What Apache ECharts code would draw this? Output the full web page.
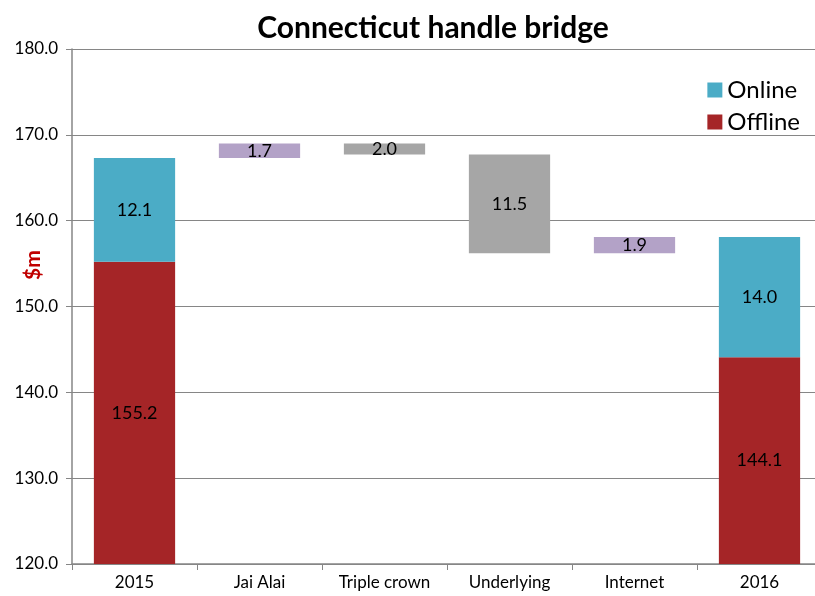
<!DOCTYPE html>
<html><head><meta charset="utf-8">
<script src="https://cdn.jsdelivr.net/npm/echarts@6/dist/echarts.min.js"></script>
<style>html,body{margin:0;padding:0;background:#fff}#c{width:815px;height:596px}</style>
</head><body><div id="c"></div>
<script>
var categories = ["2015", "Jai Alai", "Triple crown", "Underlying", "Internet", "2016"];
var offline = [155.2, null, null, null, null, 144.1];
var online = [12.1, null, null, null, null, 14.0];
var baseVals = [null, 167.3, 167.7, 156.2, 156.2, null];
var increase = [null, 1.7, null, null, 1.9, null];
var decrease = [null, null, 1.3, 11.5, null, null];
var changeLabels = ["", "1.7", "2.0", "11.5", "1.9", ""];
var yTicks = [120, 130, 140, 150, 160, 170, 180];

var font = "Lato, 'Open Sans', sans-serif";
function lbl(fn) {
  return { show: true, position: 'inside', color: '#000', fontSize: 18, fontFamily: font, formatter: fn };
}
var chart = echarts.init(document.getElementById('c'));
chart.setOption({
  animation: false,
  title: { text: 'Connecticut handle bridge', left: 428, top: 8, textAlign: 'center',
    textStyle: { fontFamily: font, fontWeight: 'bold', fontSize: 30, color: '#000' } },
  legend: { right: 10, top: 73, orient: 'vertical', itemWidth: 15, itemHeight: 15, itemGap: 8,
    data: ['Online', 'Offline'], icon: 'rect',
    textStyle: { fontFamily: font, fontSize: 24, color: '#000' } },
  graphic: [{ type: 'text', x: 33, y: 265, rotation: Math.PI / 2,
    style: { text: '$m', fill: '#c00000', font: 'bold 21px ' + font, align: 'center', verticalAlign: 'middle' } }],
  grid: { left: 72, right: -7, top: 49, bottom: 32, outerBoundsMode: 'none', containLabel: false },
  xAxis: { type: 'category', data: categories,
    axisLine: { lineStyle: { color: '#868686', width: 1.5 } },
    axisTick: { show: true, length: 6, lineStyle: { color: '#868686' } },
    axisLabel: { fontFamily: font, fontSize: 17, color: '#000', margin: 10 } },
  yAxis: { type: 'value', min: yTicks[0], max: yTicks[yTicks.length - 1], interval: 10,
    axisLine: { show: true, lineStyle: { color: '#868686', width: 1.5 } },
    axisTick: { show: true, length: 6, inside: false, lineStyle: { color: '#868686' } },
    splitLine: { lineStyle: { color: '#868686', width: 1.2 } },
    axisLabel: { fontFamily: font, fontSize: 17, color: '#000', margin: 14,
      formatter: function (v) { return v.toFixed(1); } } },
  series: [
    { name: 'base', type: 'bar', stack: 't', data: baseVals, barWidth: '65%',
      itemStyle: { color: 'transparent' }, silent: true },
    { name: 'Offline', type: 'bar', stack: 't', data: offline, barWidth: '65%',
      itemStyle: { color: '#a52527' },
      label: lbl(function (p) { return p.value == null ? '' : p.value.toFixed(1); }) },
    { name: 'Online', type: 'bar', stack: 't', data: online, barWidth: '65%',
      itemStyle: { color: '#4bacc6' },
      label: lbl(function (p) { return p.value == null ? '' : p.value.toFixed(1); }) },
    { name: 'Increase', type: 'bar', stack: 't', data: increase, barWidth: '65%',
      itemStyle: { color: '#b3a2c7' },
      label: lbl(function (p) { return changeLabels[p.dataIndex]; }) },
    { name: 'Decrease', type: 'bar', stack: 't', data: decrease, barWidth: '65%',
      itemStyle: { color: '#a6a6a6' },
      label: lbl(function (p) { return changeLabels[p.dataIndex]; }) }
  ]
});
</script></body></html>
